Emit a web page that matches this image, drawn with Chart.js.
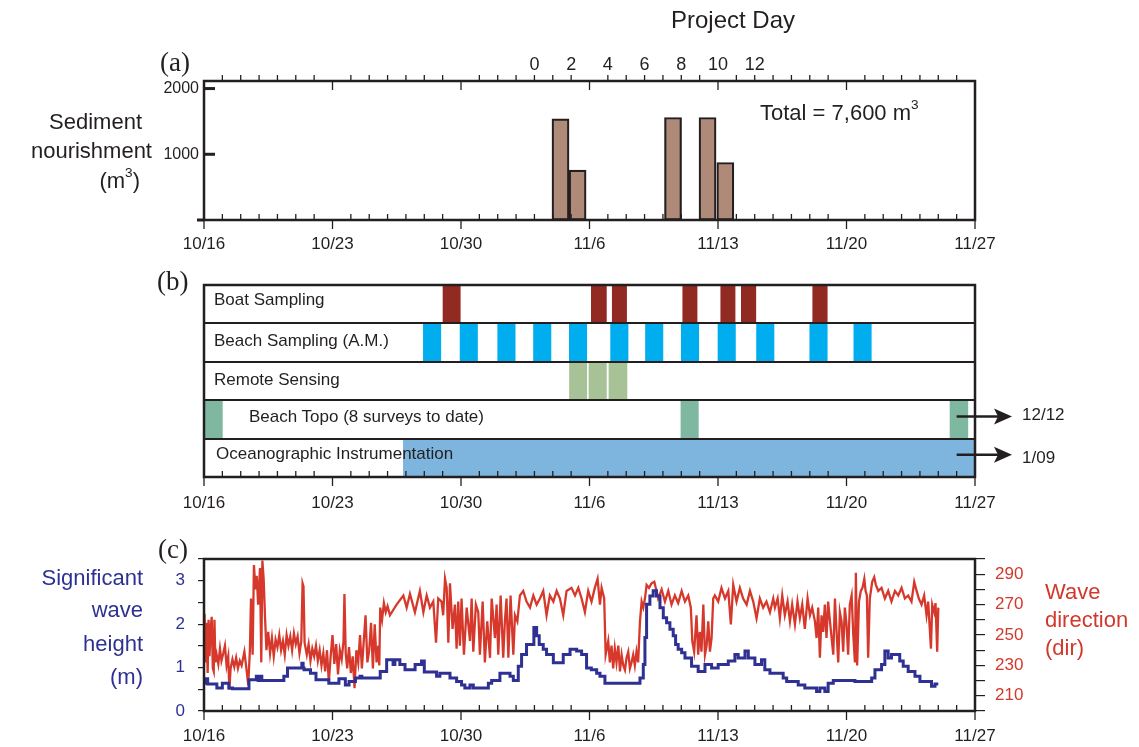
<!DOCTYPE html>
<html>
<head>
<meta charset="utf-8">
<script src="https://cdn.jsdelivr.net/npm/chart.js@4.4.0/dist/chart.umd.min.js"></script>
<style>
  body { margin: 0; background: #fff; }
  #wrap { position: relative; width: 1139px; height: 747px; overflow: hidden;
          font-family: 'Liberation Sans', Arial, sans-serif; color: #231f20; }
  canvas { position: absolute; left: 0; }
  .t { position: absolute; white-space: nowrap; line-height: 1; transform: translateY(-50%); }
  .c { transform: translate(-50%, -50%); }
  .serif { font-family: 'Liberation Serif', 'Times New Roman', serif; font-size: 27px; }
  .big { font-size: 22px; }
  .sed { font-size: 22px; }
  .row { font-size: 17px; }
  .blue { color: #2e3192; }
  .red { color: #d2382b; }
  sup { font-size: 0.62em; position: relative; top: -0.15em; }
</style>
</head>
<body>
<div id="wrap">
  <canvas id="sed" width="1139" height="260" style="top:0"></canvas>
  <canvas id="act" width="1139" height="270" style="top:260px"></canvas>
  <canvas id="wave" width="1139" height="217" style="top:530px"></canvas>

  <div class="t c" style="left:733px;top:20px;font-size:24px">Project Day</div>
  <div class="t serif" style="left:160px;top:62px">(a)</div>
  <div class="t serif" style="left:157px;top:281px">(b)</div>
  <div class="t serif" style="left:158px;top:549px">(c)</div>

  <div class="t sed" style="right:997px;top:122px">Sediment</div>
  <div class="t sed" style="right:987px;top:151px">nourishment</div>
  <div class="t sed" style="right:999px;top:180px">(m<sup>3</sup>)</div>
  <div class="t" style="left:760px;top:112px;font-size:22px">Total = 7,600 m<sup>3</sup></div>

  <div class="t row" style="left:214px;top:299px">Boat Sampling</div>
  <div class="t row" style="left:214px;top:340px">Beach Sampling (A.M.)</div>
  <div class="t row" style="left:214px;top:379px">Remote Sensing</div>
  <div class="t row" style="left:249px;top:416px">Beach Topo (8 surveys to date)</div>
  <div class="t row" style="left:216px;top:453px">Oceanographic Instrumentation</div>
  <div class="t row" style="left:1022px;top:414px">12/12</div>
  <div class="t row" style="left:1022px;top:457px">1/09</div>

  <div class="t big blue" style="right:996px;top:578px">Significant</div>
  <div class="t big blue" style="right:996px;top:610px">wave</div>
  <div class="t big blue" style="right:996px;top:644px">height</div>
  <div class="t big blue" style="right:996px;top:677px">(m)</div>
  <div class="t big red" style="left:1045px;top:592px">Wave</div>
  <div class="t big red" style="left:1045px;top:620px">direction</div>
  <div class="t big red" style="left:1045px;top:648px">(dir)</div>
</div>

<script>
// time axis is in days since 10/16
const dateTickDays = [0, 7, 14, 21, 28, 35, 42];
const dateLabels = ['10/16', '10/23', '10/30', '11/6', '11/13', '11/20', '11/27'];
const projectDayZero = 18; // project day 0 = 11/3
const projectDays = [0, 2, 4, 6, 8, 10, 12];

// (a) sediment nourishment
const sedDay = [19.42, 20.35, 25.55, 27.43, 28.4];
const sedVolume = [1540, 760, 1560, 1560, 875];
const sedTicks = [1000, 2000];

// (b) field activities, [start, end] in days
const rowNames = ['Boat Sampling', 'Beach Sampling (A.M.)', 'Remote Sensing',
  'Beach Topo (8 surveys to date)', 'Oceanographic Instrumentation'];
const boatDays = [[13.02, 13.96], [21.1, 21.92], [22.24, 23.02], [26.08, 26.86],
  [28.15, 28.93], [29.27, 30.06], [33.16, 33.95]];
const beachDays = [[11.95, 12.9], [13.95, 14.9], [16.0, 16.95], [17.95, 18.9],
  [19.9, 20.85], [22.15, 23.1], [24.05, 25.0], [26.0, 26.95], [28.0, 28.95],
  [30.1, 31.05], [33.0, 33.95], [35.4, 36.35]];
const remoteDays = [[19.91, 20.85], [20.97, 21.92], [22.06, 23.04]];
const topoDays = [[0, 1.0], [25.98, 26.93], [40.64, 41.61]];
const oceanDays = [[10.86, 42]];

// (c) wave direction (deg), [day, value]
const waveDir = [
  [0,243],[0.03,264],[0.08,232],[0.13,258],[0.2,225],[0.25,260],[0.3,236],[0.37,255],[0.42,262],[0.48,228],
  [0.53,226],[0.57,260],[0.62,232],[0.69,237],[0.78,231],[0.87,241],[0.95,233],[1.05,238],[1.14,243],[1.23,230],
  [1.32,236],[1.38,214],[1.45,228],[1.55,234],[1.65,229],[1.75,235],[1.85,228],[1.95,233],[2.05,230],[2.2,239],
  [2.3,229],[2.41,217],[2.5,240],[2.56,274],[2.65,237],[2.72,296],[2.8,280],[2.87,289],[2.95,270],[3.05,294],
  [3.12,232],[3.18,299],[3.25,287],[3.32,263],[3.4,240],[3.5,252],[3.6,238],[3.7,248],[3.8,236],[3.9,247],
  [4.0,242],[4.1,250],[4.2,240],[4.3,246],[4.4,237],[4.5,250],[4.6,243],[4.7,249],[4.8,240],[4.9,251],
  [5.0,244],[5.1,249],[5.2,238],[5.3,246],[5.37,284],[5.42,282],[5.48,245],[5.6,237],[5.7,244],[5.8,233],
  [5.9,241],[6.0,236],[6.1,243],[6.2,233],[6.3,240],[6.4,230],[6.5,238],[6.6,226],[6.7,240],[6.8,219],
  [6.9,236],[7.0,250],[7.1,231],[7.2,244],[7.3,224],[7.4,240],[7.5,234],[7.6,246],[7.65,277],[7.72,238],
  [7.8,228],[7.9,242],[8.0,225],[8.1,236],[8.2,215],[8.3,240],[8.4,232],[8.5,250],[8.6,228],[8.8,263],
  [8.9,232],[9.0,240],[9.1,258],[9.2,228],[9.3,257],[9.4,232],[9.5,243],[9.55,230],[9.6,268],[9.7,260],
  [9.8,271],[9.9,265],[10.0,269],
  [10.13,263],[10.49,270],[10.86,276],[11.04,268],[11.22,277],[11.49,265],[11.76,279],[11.95,265],[12.13,276],[12.31,268],
  [12.49,272],[12.64,245],[12.76,274],[12.94,272],[13.03,263],[13.13,287],[13.22,281],[13.31,245],[13.4,284],[13.54,254],
  [13.67,270],[13.76,241],[13.85,272],[13.94,243],[14.03,274],[14.16,237],[14.31,268],[14.49,246],[14.58,274],[14.67,239],
  [14.81,270],[14.94,265],[15.03,237],[15.18,272],[15.3,232],[15.43,259],[15.58,235],[15.67,274],[15.85,248],[15.94,270],
  [16.03,237],[16.16,276],[16.3,235],[16.39,259],[16.48,274],[16.58,235],[16.7,276],[16.85,237],[16.94,263],[17.07,259],
  [17.21,276],[17.39,279],[17.57,272],[17.76,268],[17.94,276],[18.12,270],[18.3,274],[18.48,279],[18.66,263],[18.84,276],
  [19.03,272],[19.21,279],[19.39,274],[19.57,263],[19.75,279],[20.02,281],[20.21,276],[20.39,281],[20.57,274],
  [20.75,265],[20.93,279],[21.11,272],[21.29,281],[21.44,287],[21.57,270],[21.66,281],[21.8,274],[21.88,237],[22.02,246],
  [22.11,232],[22.2,243],[22.29,228],[22.38,241],[22.47,232],[22.57,243],[22.66,226],[22.75,237],[22.84,230],[22.93,227],
  [23.02,235],[23.11,239],[23.2,228],[23.29,232],[23.38,237],[23.47,230],[23.56,239],[23.65,232],[23.75,259],[23.84,272],
  [23.93,268],[24.02,274],[24.11,283],[24.24,281],[24.38,284],[24.53,285],[24.65,279],[24.74,274],[24.93,280],[25.11,272],
  [25.29,279],[25.47,270],[25.65,276],[25.83,271],[26.02,279],[26.2,272],[26.38,276],[26.52,268],[26.6,246],[26.7,239],
  [26.83,263],[26.92,237],[27.01,252],[27.1,239],[27.2,270],[27.29,237],[27.38,243],[27.47,259],[27.56,239],[27.65,248],
  [27.74,274],[27.83,276],[28.01,272],[28.19,281],[28.38,274],[28.56,279],[28.7,257],[28.83,283],[29.01,272],[29.19,281],
  [29.37,274],[29.56,270],[29.74,279],[29.92,272],[30.1,261],[30.28,274],[30.46,268],[30.64,272],[30.83,265],[31.01,274],
  [31.1,268],[31.25,274],[31.37,261],[31.5,276],[31.64,263],[31.79,272],[31.92,259],[32.04,270],[32.19,257],[32.33,272],
  [32.46,261],[32.59,270],[32.73,254],[32.88,274],[33.01,263],[33.13,268],[33.28,259],[33.37,248],[33.46,268],[33.55,235],
  [33.64,263],[33.73,252],[33.82,270],[33.91,248],[34.0,272],[34.1,259],[34.19,248],[34.28,237],[34.37,274],[34.46,252],
  [34.55,232],[34.64,265],[34.73,259],[34.82,239],[34.91,268],[35.0,257],[35.09,237],[35.18,270],[35.28,276],[35.37,250],
  [35.46,232],[35.51,291],[35.58,230],[35.68,272],[35.78,279],[35.87,281],[35.97,287],[36.04,279],[36.11,276],[36.18,235],
  [36.27,274],[36.4,285],[36.51,288],[36.6,283],[36.73,279],[36.91,281],[37.09,274],[37.27,279],[37.45,272],[37.64,279],
  [37.82,276],[38.0,281],[38.18,274],[38.36,276],[38.54,272],[38.69,285],[38.82,279],[38.94,274],[39.09,270],[39.23,276],
  [39.36,263],[39.45,272],[39.6,241],[39.67,270],[39.78,265],[39.85,271],[39.94,239],[40.0,268]
];

// (c) significant wave height (m), step starts [day, value]
const waveHeight = [
  [0,0.64],[0.1,0.74],[0.2,0.62],[0.7,0.53],[1.0,0.64],[1.35,0.53],[1.55,0.51],[2.45,0.72],[2.85,0.8],[2.95,0.7],
  [3.05,0.8],[3.15,0.7],[4.35,0.8],[4.55,0.99],[5.33,1.1],[5.4,0.99],[5.45,0.95],[5.8,0.87],[6.1,0.72],[6.8,0.64],
  [7.35,0.74],[7.7,0.6],[7.9,0.68],[8.25,0.76],[8.5,0.8],[8.6,0.76],[9.6,0.91],[9.95,1.18],[10.3,1.07],[10.4,1.18],
  [10.67,1.07],[10.95,0.95],[11.5,1.07],[11.85,1.15],[12.0,0.9],[12.67,0.8],[12.85,0.87],[13.4,0.76],[13.76,0.68],[14.03,0.6],
  [14.21,0.53],[14.49,0.6],[14.67,0.53],[15.49,0.64],[15.67,0.7],[16.12,0.87],[16.67,0.8],[16.85,0.7],[17.12,1.03],[17.3,1.3],
  [17.57,1.53],[17.97,1.92],[18.12,1.73],[18.26,1.53],[18.48,1.42],[18.66,1.3],[19.03,1.11],[19.57,1.3],[19.94,1.42],[20.3,1.38],
  [20.57,1.3],[20.84,0.99],[21.1,0.95],[21.39,0.87],[21.57,0.8],[21.84,0.64],[23.75,0.76],[23.93,1.07],[24.02,1.69],[24.11,2.46],
  [24.29,2.65],[24.47,2.77],[24.65,2.65],[24.84,2.38],[25.02,2.15],[25.2,2.03],[25.38,1.88],[25.56,1.73],[25.69,1.53],[25.83,1.42],
  [26.02,1.34],[26.2,1.22],[26.56,1.03],[26.92,0.91],[27.29,1.07],[27.65,0.99],[28.01,1.07],[28.56,1.15],[28.92,1.3],[29.1,1.22],
  [29.47,1.38],[29.65,1.22],[30.01,1.07],[30.37,1.18],[30.55,0.95],[30.83,0.87],[31.55,0.76],[31.74,0.68],[32.37,0.6],[32.73,0.53],
  [33.37,0.45],[33.55,0.53],[33.82,0.45],[34.0,0.64],[34.28,0.7],[35.46,0.68],[36.37,0.76],[36.55,0.95],[36.91,1.07],[37.09,1.38],
  [37.27,1.22],[37.45,1.3],[37.9,1.15],[38.09,1.03],[38.36,0.91],[38.73,0.8],[39.0,0.68],[39.63,0.57],[39.82,0.62],[40.0,0.62]
];

const INK = '#231f20';
Chart.defaults.font.family = "'Liberation Sans', Arial, sans-serif";
Chart.defaults.font.size = 17;
Chart.defaults.color = INK;

// frame round the plot area plus day ticks (minor up, weekly down)
const framePlugin = {
  id: 'frame',
  afterDraw(chart, args, opts) {
    const { ctx, chartArea: a } = chart;
    const x = chart.scales.x;
    ctx.save();
    ctx.strokeStyle = INK;
    ctx.lineWidth = 1.3;
    (opts.edges || ['bottom']).forEach(edge => {
      const y0 = edge === 'top' ? a.top : a.bottom;
      for (let d = 0; d <= 42; d++) {
        const px = x.getPixelForValue(d);
        ctx.beginPath();
        ctx.moveTo(px, y0);
        ctx.lineTo(px, d % 7 === 0 ? y0 + 9 : y0 - 6);
        ctx.stroke();
      }
    });
    if (opts.yMarks) {
      const y = chart.scales.y;
      ctx.lineWidth = 3;
      opts.yMarks.forEach(v => {
        const py = y.getPixelForValue(v);
        ctx.beginPath();
        ctx.moveTo(a.left, py);
        ctx.lineTo(a.left + 11, py);
        ctx.stroke();
      });
      ctx.beginPath();
      ctx.moveTo(a.left - 7, a.bottom);
      ctx.lineTo(a.left, a.bottom);
      ctx.stroke();
    }
    ctx.lineWidth = 2.5;
    ctx.strokeRect(a.left, a.top, a.right - a.left, a.bottom - a.top);
    ctx.restore();
  }
};

// arrows showing activities continuing past 11/27
const arrowPlugin = {
  id: 'arrows',
  afterDraw(chart, args, opts) {
    if (!opts.rows) return;
    const { ctx, chartArea: a, scales: { x, y } } = chart;
    ctx.save();
    ctx.strokeStyle = INK;
    ctx.fillStyle = INK;
    ctx.lineWidth = 2.5;
    opts.rows.forEach(r => {
      const py = y.getPixelForValue(r) - 3;
      const x0 = x.getPixelForValue(opts.from);
      const x1 = a.right + 37;
      ctx.beginPath();
      ctx.moveTo(x0, py);
      ctx.lineTo(x1 - 12, py);
      ctx.stroke();
      ctx.beginPath();
      ctx.moveTo(x1, py);
      ctx.lineTo(x1 - 18, py - 8);
      ctx.lineTo(x1 - 14, py);
      ctx.lineTo(x1 - 18, py + 8);
      ctx.closePath();
      ctx.fill();
    });
    ctx.restore();
  }
};

const dateAxis = (pad, h) => ({
  type: 'linear', position: 'bottom', min: 0, max: 42, offset: false,
  grid: { display: false, drawTicks: false }, border: { display: false },
  afterBuildTicks: s => { s.ticks = dateTickDays.map(v => ({ value: v })); },
  ticks: { padding: pad, autoSkip: false, maxRotation: 0,
    callback: v => dateLabels[dateTickDays.indexOf(v)] },
  afterFit: s => { s.height = h; }
});

// (a)
new Chart(document.getElementById('sed'), {
  type: 'bar',
  data: {
    datasets: [{
      data: sedDay.map((d, i) => ({ x: d, y: sedVolume[i] })),
      backgroundColor: '#b08a78', borderColor: INK, borderWidth: 2.2,
      borderSkipped: false, barPercentage: 1, categoryPercentage: 1
    }]
  },
  options: {
    responsive: false, animation: false,
    layout: { padding: { right: 164 }, autoPadding: false },
    plugins: { legend: { display: false }, tooltip: { enabled: false },
      frame: { edges: ['top', 'bottom'], yMarks: sedTicks } },
    scales: {
      x: dateAxis(14, 40),
      xTop: {
        type: 'linear', position: 'top', offset: false,
        min: -projectDayZero, max: 42 - projectDayZero,
        grid: { display: false, drawTicks: false }, border: { display: false },
        afterBuildTicks: s => { s.ticks = projectDays.map(v => ({ value: v })); },
        ticks: { padding: 5, autoSkip: false, maxRotation: 0, font: { size: 18 } },
        afterFit: s => { s.height = 81; }
      },
      y: {
        min: 0, max: 2115,
        grid: { display: false, drawTicks: false }, border: { display: false },
        afterBuildTicks: s => { s.ticks = sedTicks.map(v => ({ value: v })); },
        ticks: { padding: 5, font: { size: 16 }, callback: v => String(v) },
        afterFit: s => { s.width = 204; }
      }
    }
  },
  plugins: [framePlugin]
});

// (b)
const activities = [
  { days: boatDays, row: 0, color: '#912b22' },
  { days: beachDays, row: 1, color: '#00aeef' },
  { days: remoteDays, row: 2, color: '#a6c296' },
  { days: topoDays, row: 3, color: '#7fb8a0' },
  { days: oceanDays, row: 4, color: '#7db5de' }
];
new Chart(document.getElementById('act'), {
  type: 'bar',
  data: {
    labels: rowNames,
    datasets: activities.map(act => ({
      data: act.days.map(p => ({ x: p, y: rowNames[act.row] })),
      backgroundColor: act.color, borderWidth: 0,
      grouped: false, barPercentage: 1, categoryPercentage: 1
    }))
  },
  options: {
    indexAxis: 'y',
    responsive: false, animation: false,
    layout: { padding: { top: 25, right: 164 }, autoPadding: false },
    plugins: { legend: { display: false }, tooltip: { enabled: false },
      frame: { edges: ['bottom'] }, arrows: { rows: [3, 4], from: 41 } },
    scales: {
      x: dateAxis(16, 53),
      y: {
        type: 'category', offset: true,
        grid: { offset: true, z: 1, drawTicks: false, color: INK, lineWidth: 2 },
        border: { display: false },
        ticks: { display: false },
        afterFit: s => { s.width = 204; }
      }
    }
  },
  plugins: [framePlugin, arrowPlugin]
});

// (c)
new Chart(document.getElementById('wave'), {
  type: 'line',
  data: {
    datasets: [{
      label: 'Significant wave height',
      data: waveHeight.map(p => ({ x: p[0], y: p[1] })),
      borderColor: '#2e3192', borderWidth: 3, stepped: true,
      pointRadius: 0, yAxisID: 'y'
    }, {
      label: 'Wave direction',
      data: waveDir.map(p => ({ x: p[0], y: p[1] })),
      borderColor: '#d6392b', borderWidth: 2.3, tension: 0,
      pointRadius: 0, yAxisID: 'y2'
    }]
  },
  options: {
    responsive: false, animation: false,
    layout: { padding: { top: 29 }, autoPadding: false },
    plugins: { legend: { display: false }, tooltip: { enabled: false },
      frame: { edges: ['bottom'] } },
    scales: {
      x: dateAxis(15, 36),
      y: {
        position: 'left', min: 0, max: 3.5,
        grid: { drawOnChartArea: false, tickLength: 6, color: INK, lineWidth: 1.2 },
        border: { display: false },
        ticks: { stepSize: 0.5, padding: 13, color: '#2e3192', autoSkip: false,
          callback: v => (v % 1 === 0 ? String(v) : '') },
        afterFit: s => { s.width = 204; }
      },
      y2: {
        position: 'right', min: 200, max: 300,
        grid: { drawOnChartArea: false, tickLength: 10, color: INK, lineWidth: 1.2 },
        border: { display: false },
        ticks: { stepSize: 10, padding: 10, color: '#d2382b', autoSkip: false,
          callback: v => (v % 20 === 10 ? String(v) : '') },
        afterFit: s => { s.width = 164; }
      }
    }
  },
  plugins: [framePlugin]
});
</script>
</body>
</html>
